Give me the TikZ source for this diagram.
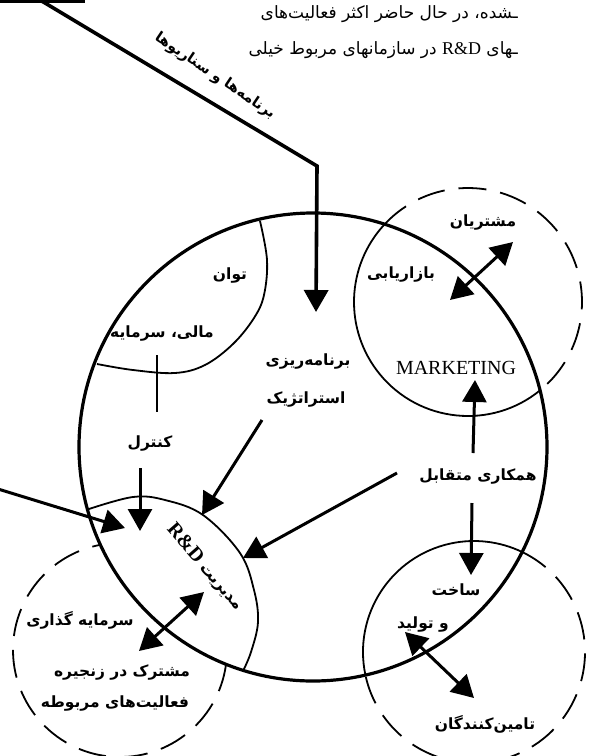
\documentclass[tikz,border=0pt]{standalone}
\usepackage{fontspec}
\setmainfont{Liberation Serif}
\newfontfamily\fa[Script=Arabic]{DejaVu Sans}
\TeXXeTstate=1
\usetikzlibrary{arrows.meta,calc}
\newcommand\rl[1]{\beginR #1\endR}
\begin{document}
\begin{tikzpicture}[x=1pt,y=-1pt,
  bigline/.style={line width=3.2pt},
  arcline/.style={line width=1.8pt},
  dashcirc/.style={line width=1.8pt, dash pattern=on 28pt off 14pt},
  arr/.style={line width=3pt, -{Triangle[length=22pt,width=24pt]}},
  darr/.style={line width=3pt, {Triangle[length=22pt,width=24pt]}-{Triangle[length=22pt,width=24pt]}},
  lab/.style={font={\fa\bfseries\fontsize{15.5}{18}\selectfont}, inner sep=1pt},
  para/.style={font={\fa\fontsize{17}{19}\selectfont}, inner sep=0pt, anchor=east},
  latin/.style={font={\rmfamily\fontsize{20}{22}\selectfont}, inner sep=1pt}]
\useasboundingbox (0,0) rectangle (591,756);
\fill[white] (0,0) rectangle (591,756);

% top book text
\node[para] (txtA) at (518,14) {\rl{ـشده، در حال حاضر اکثر فعالیت‌های}};
\node[para] (txtB) at (518,50) {\rl{ـهای \beginL{\rmfamily\fontsize{18}{20}\selectfont R\&D}\endL{} در سازمانهای مربوط خیلی}};

% big circle (organisation)
\node[circle, draw, bigline, minimum size=468pt, inner sep=0pt] (org) at (313,447) {};

% marketing circle: solid inside, dashed outside
\coordinate (mk) at (468,302);
\draw[arcline] ($(mk)+(50.8:114)$) arc[start angle=50.8, end angle=223.0, radius=114];
\draw[dashcirc] ($(mk)+(-137.0:114)$) arc[start angle=-137.0, end angle=50.8, radius=114];

% production circle
\coordinate (pr) at (474,652);
\draw[arcline] ($(pr)+(168.0:111)$) arc[start angle=168.0, end angle=295.7, radius=111];
\draw[dashcirc] ($(pr)+(-64.3:111)$) arc[start angle=-64.3, end angle=168.0, radius=111];

% investment region: solid R&D boundary inside, dashed outside
\coordinate (iv) at (120,650);
\draw[arcline] plot[smooth, tension=0.6] coordinates {(89,509) (133,497) (165,500) (203,515) (240,553) (254,590) (258,622) (251,652) (243,671)};
\draw[dashcirc] ($(iv)+(7.6:107)$) arc[start angle=7.6, end angle=259.4, radius=107];

% power lens
\draw[arcline] plot[smooth, tension=0.6] coordinates {(260,221) (267,260) (264,295) (254,318) (233,344) (205,365) (175,373) (133,370) (97,364)};

% labels
\node[lab] (customers) at (483,222) {\rl{مشتریان}};
\node[lab] (marketfa) at (401,274) {\rl{بازاریابی}};
\node[latin] (marketing) at (456,368) {MARKETING};
\node[lab] (power) at (230,275) {\rl{توان}};
\node[lab] (finance) at (162,333) {\rl{مالی، سرمایه}};
\node[lab] (plan1) at (308,361) {\rl{برنامه‌ریزی}};
\node[lab] (plan2) at (306,399) {\rl{استراتژیک}};
\node[lab] (control) at (150,443) {\rl{کنترل}};
\node[lab] (coop) at (478,476) {\rl{همکاری متقابل}};
\node[lab] (make1) at (456,590) {\rl{ساخت}};
\node[lab] (make2) at (423,624) {\rl{و تولید}};
\node[lab] (suppliers) at (485,724) {\rl{تامین‌کنندگان}};
\node[lab, rotate=-49] (rnd) at (205,567) {\rl{مدیریت \beginL{\rmfamily\fontsize{20}{22}\selectfont R\&D}\endL}};
\node[lab] (inv1) at (80,620) {\rl{سرمایه گذاری}};
\node[lab] (inv2) at (122,672) {\rl{مشترک در زنجیره}};
\node[lab] (inv3) at (115,703) {\rl{فعالیت‌های مربوطه}};
\node[lab, font={\fa\bfseries\fontsize{14.5}{16}\selectfont}, rotate=-34] (scen) at (215,76) {\rl{برنامه‌ها و سناریوها}};

% connector end points
\coordinate (barL) at (0,1.5);
\coordinate (barR) at (85,1.5);
\coordinate (inA) at (40,0);
\coordinate (inB) at (317,166);
\coordinate (planTip) at (316,312);
\coordinate (leftA) at (-2,489);
\coordinate (leftTip) at (125,528);
\coordinate (ctrlA) at (140,468);
\coordinate (ctrlTip) at (140,531);
\coordinate (finA) at (157,355);
\coordinate (finB) at (157,412);
\coordinate (planA) at (262,420);
\coordinate (planRnd) at (202,515);
\coordinate (coopA) at (397,473);
\coordinate (coopRnd) at (243,558);
\coordinate (coopUpA) at (473,453);
\coordinate (coopUpTip) at (475,380);
\coordinate (coopDnA) at (472,503);
\coordinate (coopDnTip) at (471,575);
\coordinate (mkA) at (450,300);
\coordinate (mkB) at (513,242);
\coordinate (prA) at (405,632);
\coordinate (prB) at (474,698);
\coordinate (ivA) at (139,651);
\coordinate (ivB) at (204,592);

% connectors
\draw[line width=3pt] (barL) -- (barR);
\draw[arr, line width=3.6pt, line join=miter] (inA) -- (inB) -- (planTip);
\draw[arr] (leftA) -- (leftTip);
\draw[arr] (ctrlA) -- (ctrlTip);
\draw[line width=2.6pt] (finA) -- (finB);
\draw[arr] (planA) -- (planRnd);
\draw[arr] (coopA) -- (coopRnd);
\draw[arr] (coopUpA) -- (coopUpTip);
\draw[arr] (coopDnA) -- (coopDnTip);
\draw[darr] (mkA) -- (mkB);
\draw[darr] (prA) -- (prB);
\draw[darr] (ivA) -- (ivB);
\end{tikzpicture}
\end{document}
